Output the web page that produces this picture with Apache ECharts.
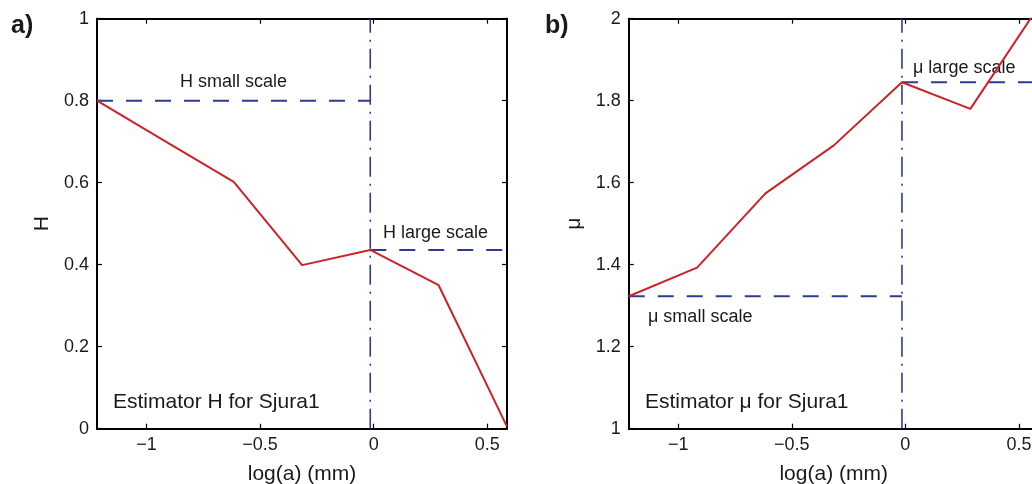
<!DOCTYPE html>
<html>
<head>
<meta charset="utf-8">
<script src="https://cdn.jsdelivr.net/npm/echarts@6/dist/echarts.min.js"></script>
<style>
  html, body { margin: 0; padding: 0; overflow: hidden; background: #ffffff; }
  #chart { width: 1040px; height: 484px; }
</style>
</head>
<body>
<div id="chart"></div>
<script>
// Scale estimators for the Sjura1 profile, plotted against log of the window size a
const logA = [-1.218, -0.917, -0.616, -0.315, -0.015, 0.286, 0.587];
const hValues = [0.800, 0.701, 0.602, 0.399, 0.436, 0.350, 0.005];
const muValues = [1.323, 1.393, 1.574, 1.691, 1.845, 1.780, 2.030];

// Axis ranges and tick values
const xRange = [-1.218, 0.587];
const xTicks = [-1, -0.5, 0, 0.5];
const hRange = [0, 1];
const muRange = [1, 2];
const yStep = 0.2;

// Cross-over between small and large scale, and the fitted levels on each side
const scaleBreak = -0.015;
const hSmall = 0.800, hLarge = 0.436;
const muSmall = 1.323, muLarge = 1.845;

const FONT = '"Liberation Sans", Arial, Helvetica, sans-serif';
const INK = '#1a1a1a';
const RED = '#cc2229';
const BLUE = '#2e3b93';
const DASH = [16, 13];
const DASH_DOT = [20, 7, 2, 7];

const fmtX = v => (v < 0 ? '\u2212' + Math.abs(v) : String(v));

const gridTop = 18.7, gridBottom = 55.3, gridWidth = 410;
const grids = [
  { left: 97, top: gridTop, width: gridWidth, bottom: gridBottom, outerBoundsMode: 'none', containLabel: false },
  { left: 628.7, top: gridTop, width: gridWidth, bottom: gridBottom, outerBoundsMode: 'none', containLabel: false }
];

function xAxes(gridIndex) {
  const common = {
    type: 'value', gridIndex, min: xRange[0], max: xRange[1],
    axisLine: { show: true, onZero: false, lineStyle: { color: '#000', width: 2 } },
    axisTick: { show: true, inside: true, length: 5, customValues: xTicks, lineStyle: { color: '#000', width: 1.2 } },
    splitLine: { show: false }
  };
  return [
    Object.assign({}, common, {
      position: 'bottom',
      name: 'log(a) (mm)', nameLocation: 'middle', nameGap: 35,
      nameTextStyle: { fontFamily: FONT, fontSize: 21, color: INK },
      axisLabel: { show: true, customValues: xTicks, formatter: fmtX, margin: 7, fontFamily: FONT, fontSize: 18, color: INK }
    }),
    Object.assign({}, common, { position: 'top', axisLabel: { show: false } })
  ];
}

function yAxes(gridIndex, range, name) {
  const common = {
    type: 'value', gridIndex, min: range[0], max: range[1], interval: yStep,
    axisLine: { show: true, onZero: false, lineStyle: { color: '#000', width: 2 } },
    axisTick: { show: true, inside: true, length: 5, lineStyle: { color: '#000', width: 1.2 } },
    splitLine: { show: false }
  };
  return [
    Object.assign({}, common, {
      position: 'left',
      name, nameLocation: 'middle', nameGap: 44,
      nameTextStyle: { fontFamily: FONT, fontSize: 21, color: INK },
      axisLabel: { show: true, margin: 8, fontFamily: FONT, fontSize: 18, color: INK }
    }),
    Object.assign({}, common, { position: 'right', axisLabel: { show: false } })
  ];
}

function lineSeries(xi, yi, data, color, width, type, z) {
  return {
    type: 'line', xAxisIndex: xi, yAxisIndex: yi, data,
    symbol: 'none', silent: true, animation: false, clip: true, z,
    lineStyle: { color, width, type }
  };
}

function panelSeries(xi, yi, values, small, large, range) {
  return [
    lineSeries(xi, yi, [[xRange[0], small], [scaleBreak, small]], BLUE, 2, DASH, 2),
    lineSeries(xi, yi, [[scaleBreak, large], [xRange[1], large]], BLUE, 2, DASH, 2),
    lineSeries(xi, yi, [[scaleBreak, range[0]], [scaleBreak, range[1]]], BLUE, 1.6, DASH_DOT, 2),
    lineSeries(xi, yi, logA.map((x, i) => [x, values[i]]), RED, 2, 'solid', 3)
  ];
}

function label(text, x, y, size, bold) {
  return {
    type: 'text', x, y, silent: true,
    style: {
      text, fill: INK,
      font: (bold ? 'bold ' : '') + size + 'px ' + FONT,
      textVerticalAlign: 'middle', verticalAlign: 'middle'
    }
  };
}

const chart = echarts.init(document.getElementById('chart'), null, { renderer: 'canvas' });
chart.setOption({
  animation: false,
  backgroundColor: '#ffffff',
  grid: grids,
  xAxis: [...xAxes(0), ...xAxes(1)],
  yAxis: [...yAxes(0, hRange, 'H'), ...yAxes(1, muRange, '\u03bc')],
  series: [
    ...panelSeries(0, 0, hValues, hSmall, hLarge, hRange),
    ...panelSeries(2, 2, muValues, muSmall, muLarge, muRange)
  ],
  graphic: [
    label('a)', 11, 26, 25, true),
    label('b)', 545, 26, 25, true),
    label('H small scale', 180, 82, 18),
    label('H large scale', 383, 233, 18),
    label('Estimator H for Sjura1', 113, 402, 21),
    label('\u03bc large scale', 913, 68, 18),
    label('\u03bc small scale', 648, 317, 18),
    label('Estimator \u03bc for Sjura1', 645, 402, 21)
  ]
});
</script>
</body>
</html>
